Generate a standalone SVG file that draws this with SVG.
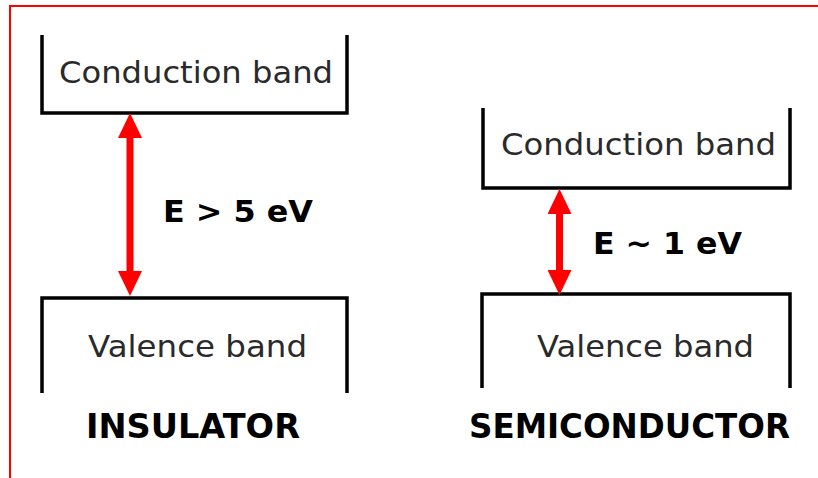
<svg xmlns="http://www.w3.org/2000/svg" width="818" height="478" viewBox="0 0 818 478">
<style>
.band{fill:none;stroke:#000;stroke-width:3.5;stroke-linejoin:miter}
.lbl{font-family:"DejaVu Sans",Verdana,sans-serif;font-size:31px;fill:#2a2a2a}
.gap{font-family:"DejaVu Sans",Verdana,sans-serif;font-size:31px;font-weight:bold;fill:#000}
.title{font-family:"DejaVu Sans",Verdana,sans-serif;font-size:34px;font-weight:bold;fill:#000}
.arr{stroke:#f00;stroke-width:7;fill:none}
</style>
<defs>
<marker id="head" viewBox="0 0 25 24" markerWidth="25" markerHeight="24" refX="1" refY="12" orient="auto-start-reverse" markerUnits="userSpaceOnUse">
<path d="M0,0 L25,12 L0,24 z" fill="#f00"/>
</marker>
</defs>
<rect x="10" y="6" width="830" height="490" fill="#fff" stroke="#f00" stroke-width="2"/>
<g id="ins-conduction">
<path class="band" d="M42,35 V113 H347 V35"/>
<text class="lbl" x="59" y="83" textLength="274" lengthAdjust="spacingAndGlyphs">Conduction band</text>
</g>
<g id="ins-valence">
<path class="band" d="M42,393 V298 H347 V393"/>
<text class="lbl" x="88" y="357" textLength="219" lengthAdjust="spacingAndGlyphs">Valence band</text>
</g>
<g id="ins-gap">
<text class="gap" x="163" y="222" textLength="150" lengthAdjust="spacingAndGlyphs">E &gt; 5 eV</text>
</g>
<g id="ins-title">
<text class="title" x="86" y="438" textLength="214" lengthAdjust="spacingAndGlyphs">INSULATOR</text>
</g>
<g id="semi-conduction">
<path class="band" d="M483,108 V188 H790 V108"/>
<text class="lbl" x="501" y="155" textLength="275" lengthAdjust="spacingAndGlyphs">Conduction band</text>
</g>
<g id="semi-valence">
<path class="band" d="M482,388 V294 H790 V388"/>
<text class="lbl" x="537" y="357" textLength="217" lengthAdjust="spacingAndGlyphs">Valence band</text>
</g>
<g id="semi-gap">
<text class="gap" x="593" y="254" textLength="149" lengthAdjust="spacingAndGlyphs">E ~ 1 eV</text>
</g>
<g id="semi-title">
<text class="title" x="469" y="438" textLength="321" lengthAdjust="spacingAndGlyphs">SEMICONDUCTOR</text>
</g>
<g id="connectors">
<line class="arr" x1="130" y1="137" x2="130" y2="272" marker-start="url(#head)" marker-end="url(#head)"/>
<line class="arr" x1="559.5" y1="213" x2="559.5" y2="271" marker-start="url(#head)" marker-end="url(#head)"/>
</g>
</svg>
